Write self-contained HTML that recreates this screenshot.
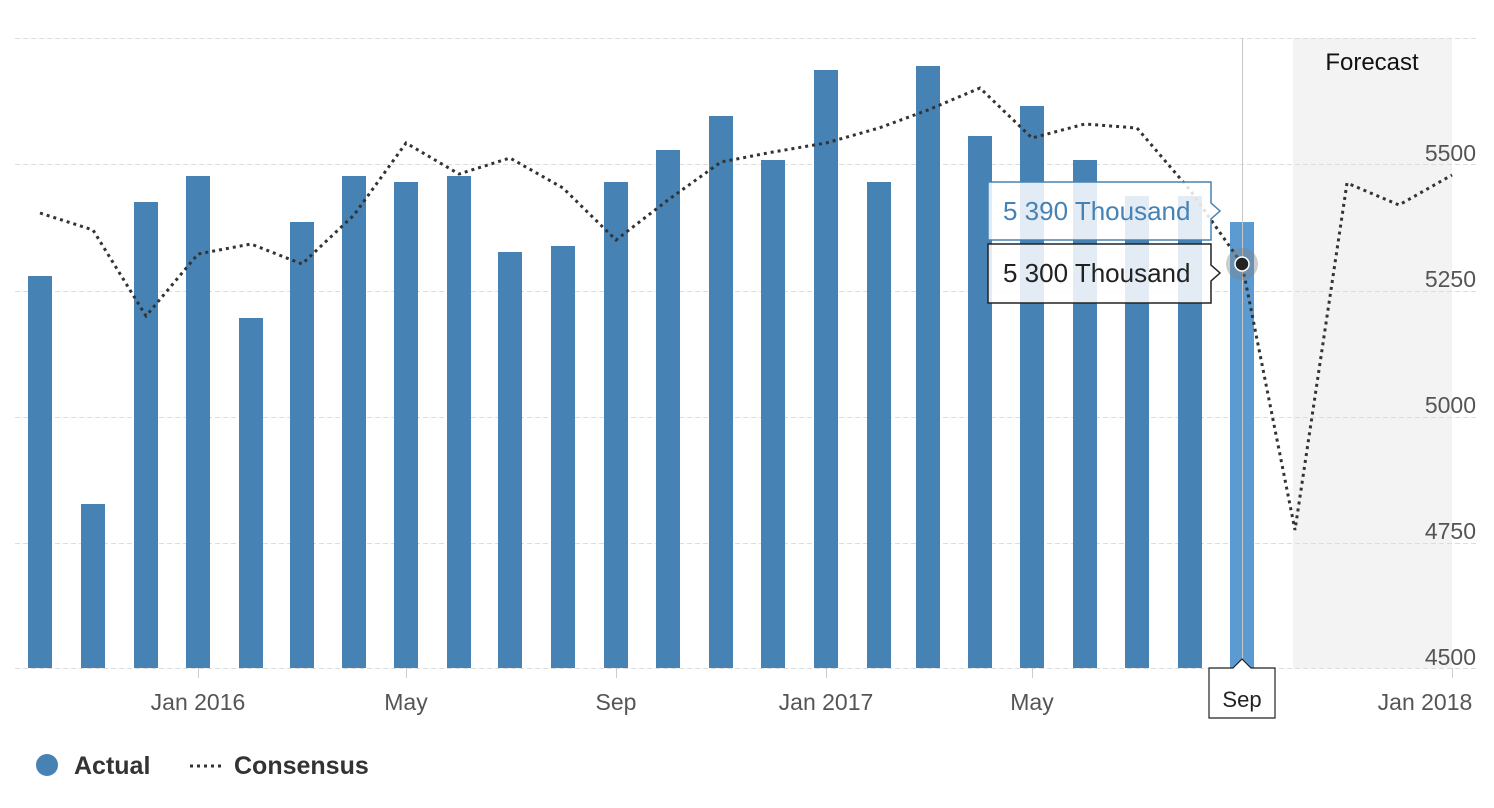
<!DOCTYPE html>
<html><head><meta charset="utf-8"><style>
html,body{margin:0;padding:0;background:#fff;}
svg{display:block;font-family:"Liberation Sans",sans-serif;}
</style></head><body>
<svg width="1494" height="808" viewBox="0 0 1494 808" xmlns="http://www.w3.org/2000/svg">
<rect x="1293" y="38" width="159" height="630" fill="#f3f3f3"/>
<g stroke="#dddddd" stroke-width="1" stroke-dasharray="5,3">
<line x1="15" y1="38.5" x2="1478" y2="38.5"/>
<line x1="15" y1="164.5" x2="1478" y2="164.5"/>
<line x1="15" y1="291.5" x2="1478" y2="291.5"/>
<line x1="15" y1="417.5" x2="1478" y2="417.5"/>
<line x1="15" y1="543.5" x2="1478" y2="543.5"/>
<line x1="15" y1="668.5" x2="1478" y2="668.5"/>
</g>
<g fill="#4682b4">
<rect x="28" y="276" width="24" height="392"/>
<rect x="81" y="504" width="24" height="164"/>
<rect x="134" y="202" width="24" height="466"/>
<rect x="186" y="176" width="24" height="492"/>
<rect x="239" y="318" width="24" height="350"/>
<rect x="290" y="222" width="24" height="446"/>
<rect x="342" y="176" width="24" height="492"/>
<rect x="394" y="182" width="24" height="486"/>
<rect x="447" y="176" width="24" height="492"/>
<rect x="498" y="252" width="24" height="416"/>
<rect x="551" y="246" width="24" height="422"/>
<rect x="604" y="182" width="24" height="486"/>
<rect x="656" y="150" width="24" height="518"/>
<rect x="709" y="116" width="24" height="552"/>
<rect x="761" y="160" width="24" height="508"/>
<rect x="814" y="70" width="24" height="598"/>
<rect x="867" y="182" width="24" height="486"/>
<rect x="916" y="66" width="24" height="602"/>
<rect x="968" y="136" width="24" height="532"/>
<rect x="1020" y="106" width="24" height="562"/>
<rect x="1073" y="160" width="24" height="508"/>
<rect x="1125" y="196" width="24" height="472"/>
<rect x="1178" y="196" width="24" height="472"/>
</g>
<rect x="1230" y="222" width="24" height="446" fill="#5b9bd1"/>
<line x1="1242.5" y1="38" x2="1242.5" y2="668" stroke="#c8c8c8" stroke-width="1"/>
<polyline fill="none" stroke="#333" stroke-width="3" stroke-dasharray="3,4" points="40,213 93,230 146,316 198,254 251,244 302,264 354,215 406,143 459,174 510,158 563,188 616,240 668,200 721,162 773,152 826,143 879,128 928,110 980,88 1032,138 1085,124 1137,128 1190,190 1242,264 1295,530 1347,183 1399,205 1452,175"/>
<text x="1372" y="70" font-size="24" text-anchor="middle" fill="#111">Forecast</text>
<g font-size="23" fill="#555" text-anchor="end">
<text x="1476" y="161">5500</text>
<text x="1476" y="287">5250</text>
<text x="1476" y="413">5000</text>
<text x="1476" y="539">4750</text>
<text x="1476" y="665">4500</text>
</g>
<g stroke="#ccc"><line x1="198.5" y1="668" x2="198.5" y2="678"/><line x1="406.5" y1="668" x2="406.5" y2="678"/><line x1="616.5" y1="668" x2="616.5" y2="678"/><line x1="826.5" y1="668" x2="826.5" y2="678"/><line x1="1032.5" y1="668" x2="1032.5" y2="678"/><line x1="1452.5" y1="668" x2="1452.5" y2="678"/></g>
<g font-size="23" fill="#555" text-anchor="middle">
<text x="198" y="710">Jan 2016</text>
<text x="406" y="710">May</text>
<text x="616" y="710">Sep</text>
<text x="826" y="710">Jan 2017</text>
<text x="1032" y="710">May</text>
<text x="1425" y="710">Jan 2018</text>
</g>
<path d="M988,182 H1211 V203 L1220,211 L1211,219 V240 H988 Z" fill="rgba(255,255,255,0.85)" stroke="#4682b4" stroke-width="1.5"/>
<text x="1003" y="220" font-size="26" fill="#4682b4">5 390 Thousand</text>
<path d="M988,244 H1211 V265 L1220,273 L1211,281 V303 H988 Z" fill="rgba(255,255,255,0.85)" stroke="#222" stroke-width="1.5"/>
<text x="1003" y="282" font-size="26" fill="#222">5 300 Thousand</text>
<circle cx="1242" cy="264" r="16" fill="rgba(130,130,130,0.4)"/>
<circle cx="1242" cy="264" r="7" fill="#222" stroke="#fff" stroke-width="1.5"/>
<path d="M1209,668 H1233 L1242,659 L1251,668 H1275 V718 H1209 Z" fill="#fff" stroke="#222" stroke-width="1.2"/>
<text x="1242" y="707" font-size="22" text-anchor="middle" fill="#222">Sep</text>
<circle cx="47" cy="765" r="11" fill="#4682b4"/>
<text x="74" y="774" font-size="25" font-weight="bold" fill="#333">Actual</text>
<line x1="190" y1="766" x2="222" y2="766" stroke="#333" stroke-width="3" stroke-dasharray="3,4"/>
<text x="234" y="774" font-size="25" font-weight="bold" fill="#333">Consensus</text>
</svg>
</body></html>
